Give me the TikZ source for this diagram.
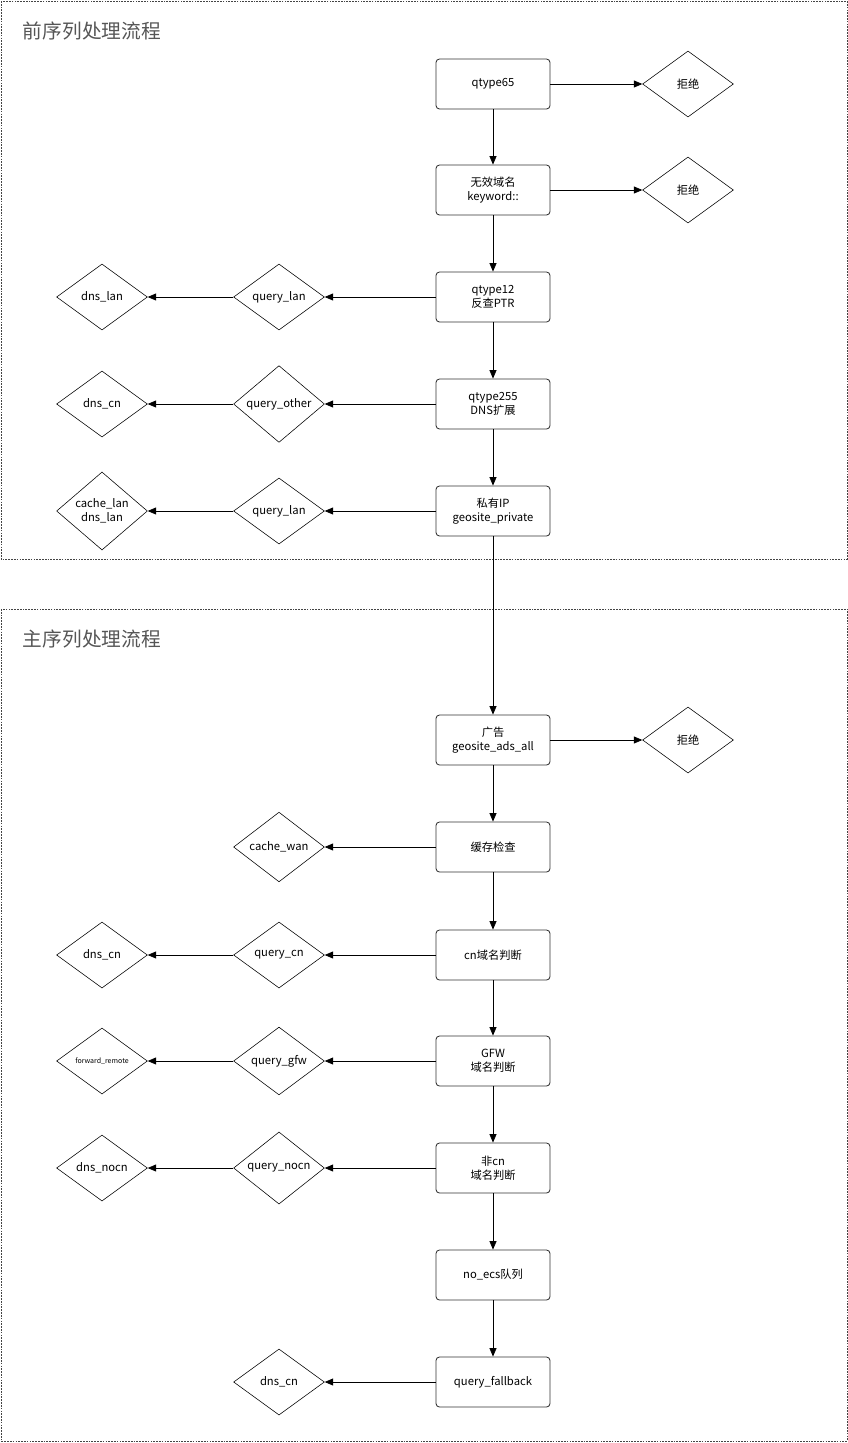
\documentclass[tikz,border=0pt]{standalone}
\usepackage{fontspec}
\setmainfont{Noto Sans CJK SC}
\usetikzlibrary{arrows.meta,shapes.geometric}
\definecolor{boxline}{HTML}{333333}
\definecolor{grouptext}{HTML}{555555}
\definecolor{groupline}{HTML}{444444}

\begin{document}
\begin{tikzpicture}[
    x=0.025cm, y=-0.025cm,
    stepbox/.style={
        rectangle, rounded corners=2.5pt,
        draw=boxline, line width=0.6pt,
        minimum width=2.85cm, minimum height=1.25cm,
        align=center, font=\fontsize{8}{10}\selectfont,
    },
    choice/.style={
        diamond, draw, line width=0.4pt, inner sep=0pt,
        minimum width=2.27cm, minimum height=1.65cm,
        align=center, font=\fontsize{8}{10}\selectfont,
    },
    group/.style={draw=groupline, line width=0.5pt, dash pattern=on 1.2pt off 0.8pt},
    grouptitle/.style={anchor=west, font=\fontsize{14}{16}\selectfont, text=grouptext},
    arr/.style={-{Triangle[length=6pt,width=5pt]}, line width=0.5pt},
]
\useasboundingbox (0,0) rectangle (848,1443);

% Groups
\draw[group] (1,1) rectangle (847,559);
\node[grouptitle] (pretitle) at (18,31) {前序列处理流程};
\draw[group] (1,609) rectangle (847,1441);
\node[grouptitle] (maintitle) at (18,639) {主序列处理流程};

% Pre-sequence steps
\node[stepbox] (q65) at (493,84) {qtype65};
\node[choice] (rej1) at (688,84) {拒绝};

\node[stepbox] (invalid) at (493,190) {无效域名\\keyword::};
\node[choice] (rej2) at (688,190) {拒绝};

\node[stepbox] (ptr) at (493,297) {qtype12\\反查PTR};
\node[choice] (ptrq) at (279,297) {query\_lan};
\node[choice] (ptrdns) at (102,297) {dns\_lan};

\node[stepbox] (ext) at (493,404) {qtype255\\DNS扩展};
\node[choice] (extq) at (279,404) {query\_other};
\node[choice] (extdns) at (102,404) {dns\_cn};

\node[stepbox] (priv) at (493,511) {私有IP\\geosite\_private};
\node[choice] (privq) at (279,511) {query\_lan};
\node[choice] (privdns) at (102,511) {cache\_lan\\dns\_lan};

% Main sequence steps
\node[stepbox] (ads) at (493,740) {广告\\geosite\_ads\_all};
\node[choice] (rej3) at (688,740) {拒绝};

\node[stepbox] (cache) at (493,847) {缓存检查};
\node[choice] (cachewan) at (279,847) {cache\_wan};

\node[stepbox] (cn) at (493,955) {cn域名判断};
\node[choice] (cnq) at (279,955) {query\_cn};
\node[choice] (cndns) at (102,955) {dns\_cn};

\node[stepbox] (gfw) at (493,1061) {GFW\\域名判断};
\node[choice] (gfwq) at (279,1061) {query\_gfw};
\node[choice, font=\fontsize{5}{6}\selectfont] (gfwfwd) at (102,1061) {forward\_remote};

\node[stepbox] (nocn) at (493,1168) {非cn\\域名判断};
\node[choice] (nocnq) at (279,1168) {query\_nocn};
\node[choice] (nocndns) at (102,1168) {dns\_nocn};

\node[stepbox] (noecs) at (493,1275) {no\_ecs队列};

\node[stepbox] (fallback) at (493,1382) {query\_fallback};
\node[choice] (fbdns) at (279,1382) {dns\_cn};

% Main chain
\foreach \a/\b in {q65/invalid, invalid/ptr, ptr/ext, ext/priv, priv/ads,
    ads/cache, cache/cn, cn/gfw, gfw/nocn, nocn/noecs, noecs/fallback}
  \draw[arr] (\a) -- (\b);

% Rejects
\draw[arr] (q65) -- (rej1);
\draw[arr] (invalid) -- (rej2);
\draw[arr] (ads) -- (rej3);

% Side branches
\foreach \a/\b/\c in {ptr/ptrq/ptrdns, ext/extq/extdns, priv/privq/privdns,
    cn/cnq/cndns, gfw/gfwq/gfwfwd, nocn/nocnq/nocndns} {
  \draw[arr] (\a) -- (\b);
  \draw[arr] (\b) -- (\c);
}
\draw[arr] (cache) -- (cachewan);
\draw[arr] (fallback) -- (fbdns);

\end{tikzpicture}
\end{document}
